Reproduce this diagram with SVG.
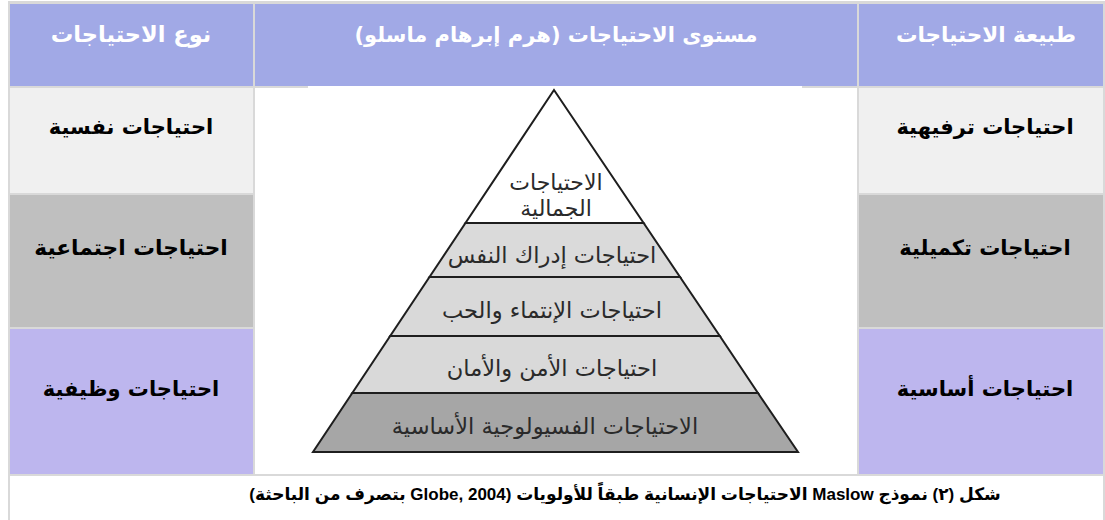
<svg xmlns="http://www.w3.org/2000/svg" width="1105" height="520" viewBox="0 0 1105 520">
<style>
.hd{fill:#ffffff;font-family:"DejaVu Sans","Liberation Sans",sans-serif;font-weight:bold;font-size:21.5px;text-anchor:middle;direction:rtl}
.cl{fill:#000000;font-family:"DejaVu Sans","Liberation Sans",sans-serif;font-weight:bold;font-size:21px;text-anchor:middle;direction:rtl}
.py{fill:#2a2a2a;font-family:"DejaVu Sans","Liberation Sans",sans-serif;font-size:22.5px;text-anchor:middle;direction:rtl}
.cap{fill:#000000;font-family:"Liberation Sans","DejaVu Sans",sans-serif;font-weight:bold;font-size:17px;text-anchor:middle;direction:rtl}
.band{stroke:#1e1e1e;stroke-width:2;stroke-linejoin:miter}
.hbg{fill:#a1a9e6}
</style>
<rect x="8" y="1" width="1097" height="519" fill="#d9d9d9"/>
<g id="header-type">
<rect class="hbg" x="10" y="4" width="243" height="82"/>
<text class="hd" x="131" y="42" style="font-size:22.5px">نوع الاحتياجات</text>
</g>
<g id="header-level">
<rect class="hbg" x="255" y="4" width="602" height="82"/>
<text class="hd" x="556" y="42" style="font-size:21px">مستوى الاحتياجات (هرم إبرهام ماسلو)</text>
</g>
<g id="header-nature">
<rect class="hbg" x="859" y="4" width="244" height="82"/>
<text class="hd" x="986" y="42">طبيعة الاحتياجات</text>
</g>
<g id="type-psych">
<rect x="10" y="88" width="243" height="105" fill="#f0f0f0"/>
<text class="cl" x="131" y="134">احتياجات نفسية</text>
</g>
<g id="type-social">
<rect x="10" y="195" width="243" height="132" fill="#bfbfbf"/>
<text class="cl" x="131" y="255" style="font-size:21.7px">احتياجات اجتماعية</text>
</g>
<g id="type-functional">
<rect x="10" y="329" width="243" height="145" fill="#bdb6ee"/>
<text class="cl" x="131" y="396">احتياجات وظيفية</text>
</g>
<g id="nature-leisure">
<rect x="859" y="88" width="244" height="105" fill="#f0f0f0"/>
<text class="cl" x="985" y="134">احتياجات ترفيهية</text>
</g>
<g id="nature-complementary">
<rect x="859" y="195" width="244" height="132" fill="#bfbfbf"/>
<text class="cl" x="985" y="255">احتياجات تكميلية</text>
</g>
<g id="nature-basic">
<rect x="859" y="329" width="244" height="145" fill="#bdb6ee"/>
<text class="cl" x="985" y="396">احتياجات أساسية</text>
</g>
<g id="pyramid-cell">
<rect x="255" y="88" width="602" height="386" fill="#ffffff"/>
<rect x="308" y="86" width="494" height="2" fill="#ffffff"/>
</g>
<g id="pyramid">
<g id="level-5">
<polygon class="band" points="554,90 643.6,223 465.5,223" fill="#ffffff"/>
<text class="py" x="556" y="190" style="font-size:22px">الاحتياجات</text>
<text class="py" x="556" y="216" style="font-size:22px">الجمالية</text>
</g>
<g id="level-4">
<polygon class="band" points="465.5,223 643.6,223 680,277 429.5,277" fill="#dadada"/>
<text class="py" x="552" y="263">احتياجات إدراك النفس</text>
</g>
<g id="level-3">
<polygon class="band" points="429.5,277 680,277 719.8,336 390.2,336" fill="#d9d9d9"/>
<text class="py" x="552" y="318">احتياجات الإنتماء والحب</text>
</g>
<g id="level-2">
<polygon class="band" points="390.2,336 719.8,336 757.9,393 352.3,393" fill="#d9d9d9"/>
<text class="py" x="552" y="376">احتياجات الأمن والأمان</text>
</g>
<g id="level-1">
<polygon class="band" points="352.3,393 757.9,393 798,452 313,452" fill="#a6a6a6"/>
<text class="py" x="545" y="434">الاحتياجات الفسيولوجية الأساسية</text>
</g>
</g>
<g id="caption">
<rect x="10" y="476" width="1093" height="44" fill="#ffffff"/>
<text class="cap" x="625" y="500">شكل (٢) نموذج Maslow الاحتياجات الإنسانية طبقاً للأولويات (Globe, 2004 بتصرف من الباحثة)</text>
</g>
<g id="connectors"/>
</svg>
